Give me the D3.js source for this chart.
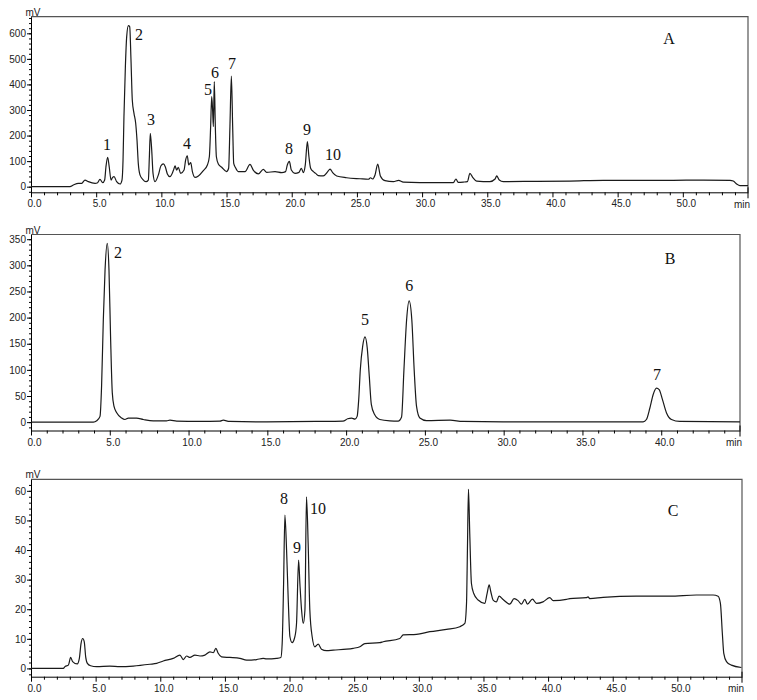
<!DOCTYPE html>
<html>
<head>
<meta charset="utf-8">
<script src="https://cdn.jsdelivr.net/npm/d3@7"></script>
<style>
  body { margin: 0; background: #fff; }
  svg { display: block; }
</style>
</head>
<body>
<div id="svg_chart"></div>
<script>
///////////// Chapter 1. Data //////////////
// chromatogram A (sample): [time min, signal mV]
var trace_a = [
  [0,0],[2.99,0],[3.25,6.5],[3.63,13],[3.89,13],[4.14,26],[4.4,19.6],[4.91,13],[5.11,15.6],
  [5.29,28.7],[5.5,15.6],[5.65,26],[5.75,78],[5.88,115],[6.0,78],[6.14,26],[6.26,36.5],[6.37,39],
  [6.57,19.6],[6.83,10.4],[6.98,26],[7.06,104],[7.13,274],[7.24,470],[7.34,587],[7.47,630],
  [7.57,626],[7.67,496],[7.77,339],[7.9,287],[8.03,248],[8.13,183],[8.23,91],[8.36,46],
  [8.57,29],[8.82,19.6],[9.0,26],[9.08,117],[9.15,209],[9.26,143],[9.36,52],[9.51,19.6],
  [9.77,46],[9.97,82],[10.15,89],[10.3,78],[10.46,50],[10.66,39],[10.92,63],[11.05,81],
  [11.17,65],[11.3,76],[11.48,52],[11.74,65],[11.86,104],[11.99,121],[12.1,85],[12.25,94],
  [12.38,59],[12.58,36.5],[12.84,42],[13.22,63],[13.53,85],[13.68,117],[13.78,235],[13.86,352],
  [13.93,300],[13.99,235],[14.06,411],[14.14,235],[14.22,117],[14.37,89],[14.63,76],[15.0,59],
  [15.16,72],[15.26,235],[15.37,433],[15.47,235],[15.55,91],[15.67,76],[15.9,59],[16.42,59],
  [16.8,87],[17.05,65],[17.44,50],[17.82,68],[18.08,56],[18.72,59],[19.23,55],[19.53,59],
  [19.66,85],[19.82,99],[19.97,65],[20.25,52],[20.56,56],[20.74,72],[20.89,55],[21.04,85],
  [21.2,176],[21.32,117],[21.45,72],[21.66,59],[21.84,52],[22.04,43],[22.42,42],[22.76,59],
  [22.94,69],[23.14,55],[23.45,42],[24.21,35],[25.24,31],[25.88,29],[26.05,35],[26.2,30],
  [26.39,46],[26.6,88],[26.8,42],[27.15,23.5],[27.8,19.6],[28.2,25],[28.56,18],[31.1,15.6],
  [32.4,15.6],[32.6,30],[32.77,17],[33.16,18],[33.47,19.6],[33.67,52],[33.88,36.5],[34.18,22],
  [35.2,19.6],[35.6,30],[35.72,42],[35.92,26],[36.23,19.6],[38.79,21],[41.34,22],[43.9,25],
  [46.46,25],[49.0,25],[51.57,26],[53.62,25],[53.87,22],[54.13,10.4],[54.38,4],[55,4]
];
var peaks_a = [[5.83,167,'1'],[8.28,594,'2'],[9.2,265,'3'],[11.97,171,'4'],[13.58,382,'5'],
  [14.11,449,'6'],[15.42,484,'7'],[19.79,151,'8'],[21.17,226,'9'],[23.17,128,'10']];

// chromatogram B (reference standards)
var trace_b = [
  [0,0],[3.96,0],[4.17,2.5],[4.38,11],[4.48,69],[4.59,196],[4.7,291],[4.84,342],[4.95,291],
  [5.05,164],[5.16,56],[5.27,30],[5.44,18],[5.75,8],[5.96,5],[6.18,7.6],[6.7,7.6],[7.13,5],
  [7.76,2.5],[8.6,2.5],[8.82,3.8],[9.24,2],[10.7,1.3],[12.0,2],[12.2,3.8],[12.6,1.3],
  [14.95,0.6],[18.1,1.3],[19.8,2],[20.1,6.4],[20.35,7.6],[20.56,5.7],[20.7,11],[20.8,43],
  [20.9,100],[21.05,145],[21.2,163],[21.34,142],[21.47,88],[21.6,34],[21.8,15],[22.14,5],
  [22.78,2.5],[23.3,2],[23.52,10],[23.67,100],[23.84,196],[24.0,232],[24.17,196],[24.32,100],
  [24.47,30],[24.68,8],[25.1,3],[26.6,3.8],[27.4,1.3],[29.97,0.6],[38.85,0.6],[39.06,5],
  [39.28,27],[39.49,53],[39.7,65],[39.87,62],[40.08,43],[40.33,18],[40.65,5],[41.18,1.3],[45,0.6]
];
var peaks_b = [[5.52,324,'2'],[21.2,197,'5'],[24.0,262,'6'],[39.73,92,'7']];

// chromatogram C
var trace_c = [
  [0,0],[2.5,0],[2.63,0.6],[2.89,1.1],[3.07,3.7],[3.22,2.3],[3.58,1.5],[3.74,3.4],[3.87,8.4],
  [4.0,10.1],[4.12,9.0],[4.23,3.9],[4.36,1.7],[4.61,0.9],[5.08,0.6],[6.1,0.8],[6.88,0.6],
  [7.91,0.8],[9.2,1.4],[9.72,1.7],[10.23,2.5],[11.0,3.4],[11.52,4.5],[11.78,3.0],[12.04,4.2],
  [12.29,3.7],[12.68,4.5],[13.07,4.2],[13.45,4.5],[13.84,5.6],[14.1,5.3],[14.3,6.8],[14.48,5.1],
  [14.74,3.9],[15.39,3.7],[16.16,3.4],[16.68,2.8],[17.45,3.0],[17.96,3.4],[18.22,3.2],[19.0,3.4],
  [19.33,3.7],[19.43,8.4],[19.54,28.7],[19.64,51.8],[19.77,40],[19.9,23.1],[20.03,10.7],
  [20.2,8.7],[20.41,10.7],[20.54,15.2],[20.7,36.6],[20.8,28.7],[20.93,19.7],[21.06,15.2],
  [21.19,19.7],[21.31,58],[21.44,42.2],[21.57,19.7],[21.75,10.7],[21.96,7.3],[22.22,8.2],
  [22.47,6.5],[22.86,6.0],[23.38,6.2],[24.41,6.5],[24.92,6.8],[25.44,7.3],[25.82,8.4],
  [26.98,8.7],[27.24,9.0],[28.53,10.1],[28.79,11.3],[29.82,11.5],[30.85,12.4],[32.14,13.2],
  [33.17,14.1],[33.56,15.2],[33.69,22],[33.76,40],[33.84,60.5],[33.94,45.6],[34.07,28.7],
  [34.25,25.3],[34.59,23.1],[35.1,22],[35.28,25.3],[35.44,28.2],[35.57,25.9],[35.75,23.1],
  [36.0,22.5],[36.21,24.4],[36.52,23.3],[37.04,21.7],[37.37,23.6],[37.68,22.9],[37.94,21.7],
  [38.2,23.3],[38.4,21.7],[38.79,23.4],[39.1,22],[39.61,22.5],[40.13,23.9],[40.39,22.9],
  [41.42,23.3],[41.67,23.6],[42.96,23.9],[43.09,24.2],[43.22,23.6],[44.25,24],[46.83,24.4],
  [49.4,24.4],[51.47,24.8],[52.76,24.8],[53.15,24.4],[53.33,22],[53.48,11.8],[53.59,5.1],
  [53.8,2.3],[54.18,1.1],[54.95,0.3]
];
var peaks_c = [[19.57,57.6,'8'],[20.58,41.0,'9'],[22.2,54.2,'10']];

// axis settings per panel
var x_max = [55, 45, 55];
var y_major = [[0,100,200,300,400,500,600], [0,50,100,150,200,250,300,350], [0,10,20,30,40,50,60]];
var y_minor_step = [20, 10, 2];
var y_domain = [[-22, 665], [-16, 359], [-2.8, 63.9]];
var panel_names = ['A', 'B', 'C'];
var panel_name_pos = [[48.94, 582], [40.56, 314], [49.66, 53.5]];

///////////// Chapter 2. Drawing //////////////
const svg_width = 757
const svg_height = 700

var svg = d3.select('#svg_chart').append('svg')
  .attr('width', svg_width)
  .attr('height', svg_height)
  .style('background', '#fff');

// pixel boxes of the three plots: [left, right, bottom, top]
var boxes = [[31, 748, 192.3, 16.7], [31, 740, 430.5, 234.5], [31, 742, 676.7, 479.3]];
var traces = [trace_a, trace_b, trace_c];
var peaks = [peaks_a, peaks_b, peaks_c];

for (var i = 0; i < 3; i++) draw_panel(i);

function draw_panel(i) {
  var box = boxes[i];
  var x = d3.scaleLinear().domain([0, x_max[i]]).range([box[0], box[1]]);
  var y = d3.scaleLinear().domain(y_domain[i]).range([box[2], box[3]]);
  var g = svg.append('g');

  // frame top and right
  g.append('path')
    .attr('d', `M${box[0]},${box[3]}H${box[1]}V${box[2]}`)
    .attr('fill', 'none')
    .attr('stroke', '#555')
    .attr('stroke-width', 1.2);

  // x axis minor ticks (every 1 min)
  var x_minor = d3.range(0, Math.floor(x_max[i]) + 1).filter(d => d % 5 != 0 && d < x_max[i]);
  g.append('g')
    .attr('transform', `translate(0,${box[2]})`)
    .call(d3.axisBottom(x).tickValues(x_minor).tickSize(3).tickFormat('').tickSizeOuter(0))
    .call(a => a.select('.domain').remove());
  // x axis major ticks with labels
  var x_major = d3.range(0, x_max[i], 5);
  var x_axis = g.append('g')
    .attr('transform', `translate(0,${box[2]})`)
    .call(d3.axisBottom(x).tickValues(x_major).tickSize(5).tickPadding(3)
      .tickFormat(d3.format('.1f')).tickSizeOuter(0));
  x_axis.selectAll('text')
    .attr('font-family', '"Liberation Sans", Arial, sans-serif')
    .attr('font-size', 10)
    .attr('fill', '#222')
    .attr('dx', 3);
  // end tick + min label
  g.append('line')
    .attr('x1', x(x_max[i])).attr('x2', x(x_max[i]))
    .attr('y1', box[2] - 5).attr('y2', box[2] + 6)
    .attr('stroke', '#000');
  g.append('text')
    .attr('x', x(x_max[i]) + 2)
    .attr('y', box[2] + 15.5)
    .attr('text-anchor', 'end')
    .attr('font-family', '"Liberation Sans", Arial, sans-serif')
    .attr('font-size', 10)
    .attr('fill', '#222')
    .text('min');

  // y axis minor ticks
  var y_minor = d3.range(Math.ceil(y_domain[i][0] / y_minor_step[i]) * y_minor_step[i], y_domain[i][1], y_minor_step[i]);
  g.append('g')
    .attr('transform', `translate(${box[0]},0)`)
    .call(d3.axisLeft(y).tickValues(y_minor).tickSize(2).tickFormat('').tickSizeOuter(0))
    .call(a => a.select('.domain').remove());
  var y_axis = g.append('g')
    .attr('transform', `translate(${box[0]},0)`)
    .call(d3.axisLeft(y).tickValues(y_major[i]).tickSize(4).tickPadding(1).tickSizeOuter(0));
  y_axis.selectAll('text')
    .attr('font-family', '"Liberation Sans", Arial, sans-serif')
    .attr('font-size', 10)
    .attr('fill', '#222');

  // mV unit
  g.append('text')
    .attr('x', box[0] + 2)
    .attr('y', box[3] - 1)
    .attr('text-anchor', 'middle')
    .attr('font-family', '"Liberation Sans", Arial, sans-serif')
    .attr('font-size', 10)
    .attr('fill', '#222')
    .text('mV');

  // signal trace
  var line = d3.line()
    .x(d => x(d[0]))
    .y(d => y(d[1]))
    .curve(d3.curveMonotoneX);
  g.append('path')
    .datum(traces[i])
    .attr('d', line)
    .attr('fill', 'none')
    .attr('stroke', '#1a1a1a')
    .attr('stroke-width', 1.2)
    .attr('stroke-linejoin', 'round');

  // peak numbers
  g.selectAll('.peak').data(peaks[i]).enter().append('text')
    .attr('class', 'peak')
    .attr('x', d => x(d[0]))
    .attr('y', d => y(d[1]))
    .attr('dy', '0.35em')
    .attr('text-anchor', 'middle')
    .attr('font-family', '"Liberation Serif", "Times New Roman", serif')
    .attr('font-size', 16)
    .attr('fill', '#111')
    .text(d => d[2]);

  // panel letter
  g.append('text')
    .attr('x', x(panel_name_pos[i][0]))
    .attr('y', y(panel_name_pos[i][1]))
    .attr('dy', '0.35em')
    .attr('text-anchor', 'middle')
    .attr('font-family', '"Liberation Serif", "Times New Roman", serif')
    .attr('font-size', 16)
    .attr('fill', '#111')
    .text(panel_names[i]);
}
</script>
</body>
</html>
